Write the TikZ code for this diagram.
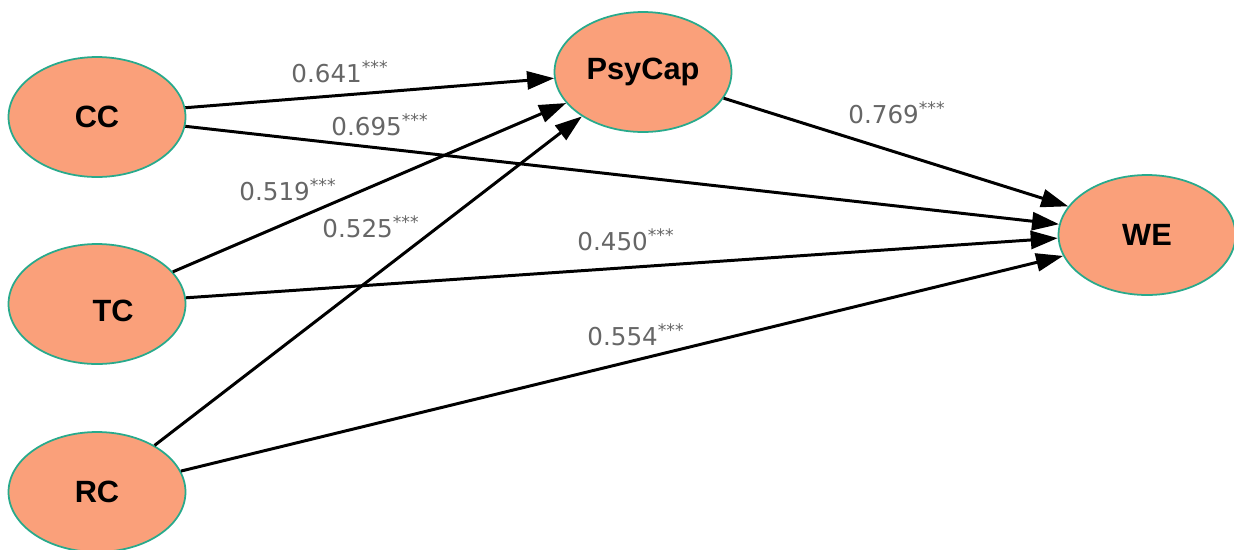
\documentclass[tikz,border=0pt]{standalone}
\usepackage{fontspec}
\setmainfont{Liberation Sans}
\newfontfamily\coeffont{DejaVu Sans}
\usepackage{xcolor}
\usetikzlibrary{arrows.meta,shapes.geometric}
\definecolor{latfill}{RGB}{250,160,122}
\definecolor{latline}{RGB}{40,170,140}

\begin{document}
\begin{tikzpicture}[x=0.02cm, y=-0.02cm,
  latent/.style={ellipse, inner sep=0pt, minimum width=3.54cm,
                 minimum height=2.4cm, draw=latline, line width=1pt,
                 fill=latfill, font=\fontsize{17.5}{20}\selectfont\bfseries},
  coef/.style={font=\coeffont\fontsize{14}{17}\selectfont, text=black!60,
               inner sep=1pt},
  arr/.style={-{Triangle[length=0.54cm,width=0.36cm]}, line width=1.7pt},
]
\useasboundingbox (0,0) rectangle (1234,549);

\node[latent] (cc)  at (97,117)   {CC};
\node[latent] (tc)  at (97,304)   {\hspace{0.64cm}\raisebox{-0.34cm}[0pt][0pt]{TC}};
\node[latent] (rc)  at (97,492)   {RC};
\node[latent] (psy) at (643,72)   {PsyCap};
\node[latent] (we)  at (1147,235) {WE};

\draw[arr] (cc.6)    -- (psy.184);
\draw[arr] (cc.354)  -- (we.173);
\draw[arr] (tc.23)   -- (psy.202);
\draw[arr] (tc.4)    -- (we.182);
\draw[arr] (rc.39)   -- (psy.216);
\draw[arr] (rc.14)   -- (we.194);
\draw[arr] (psy.342) -- (we.160);

\node[coef] (k1) at (340,72)  {0.641\textsuperscript{***}};
\node[coef] (k2) at (380,125) {0.695\textsuperscript{***}};
\node[coef] (k3) at (288,190) {0.519\textsuperscript{***}};
\node[coef] (k4) at (371,227) {0.525\textsuperscript{***}};
\node[coef] (k5) at (626,240) {0.450\textsuperscript{***}};
\node[coef] (k6) at (636,335) {0.554\textsuperscript{***}};
\node[coef] (k7) at (897,113) {0.769\textsuperscript{***}};
\end{tikzpicture}
\end{document}
